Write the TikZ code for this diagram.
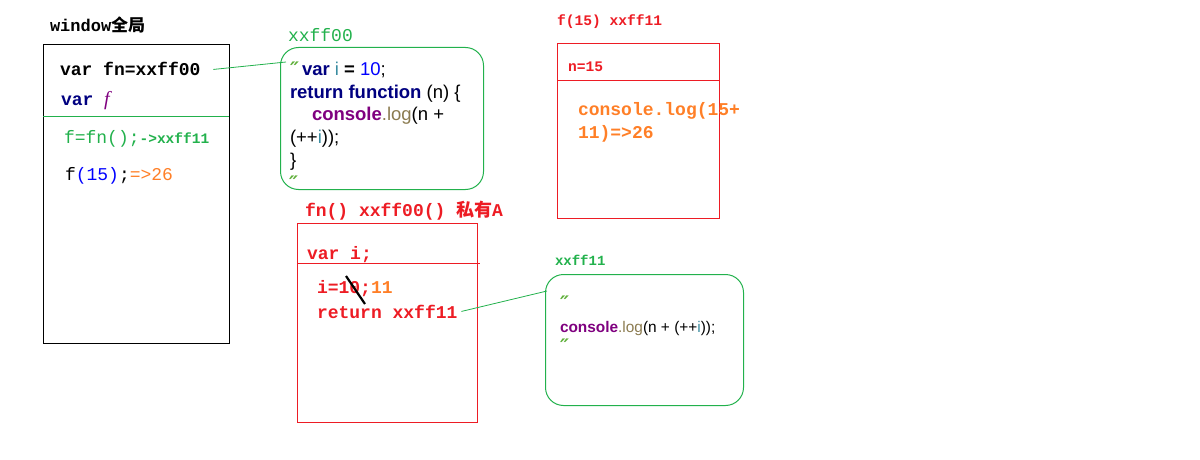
\documentclass[tikz,border=0pt]{standalone}
\usepackage{fontspec}
\setmainfont{Liberation Mono}
\newfontfamily\cjk{Noto Sans CJK SC}
\newfontfamily\code{Liberation Sans}
\newfontfamily\sym{DejaVu Sans}
\newfontfamily\serifit{Liberation Serif}
\newcommand\fsz[1]{\fontsize{#1}{#1}\selectfont}

\definecolor{pgreen}{HTML}{22B14C}
\definecolor{pred}{HTML}{ED1C24}
\definecolor{porange}{HTML}{FF7F27}
\definecolor{pnavy}{HTML}{000080}
\definecolor{ppurple}{HTML}{7F007F}
\definecolor{pblue}{HTML}{0000FF}
\definecolor{pteal}{HTML}{3A8CA0}
\definecolor{plog}{HTML}{8B7B50}
\definecolor{pquote}{HTML}{5FAF3A}

\tikzset{
  lbl/.style={anchor=base west, inner sep=0pt, outer sep=0pt},
  frame/.style={draw, line width=1pt, inner sep=0pt, anchor=north west},
  scope box/.style={frame, draw=black, line width=1.2pt},
  heap box/.style={frame, draw=pgreen, rounded corners=18pt},
  call box/.style={frame, draw=pred},
  link/.style={draw=pgreen, line width=0.8pt},
  ditto/.style={lbl, text=pquote, font=\sym\fsz{20}\bfseries\itshape},
}

\begin{document}
\begin{tikzpicture}[x=1pt,y=-1pt]
\useasboundingbox (0,0) rectangle (1200,460);

% ---------- global scope ----------
\node[lbl] (wintitle) at (50,32) {\fsz{17}\bfseries window{\cjk 全局}};
\node[scope box, minimum width=186pt, minimum height=299pt] (win) at (43,44) {};
\draw[pgreen, line width=0.8pt] (43,116) -- (229,116);
\node[lbl] (fnvar) at (60,76) {\fsz{18}\bfseries var fn=xxff00};
\node[lbl] (varf) at (61,105) {\fsz{18}\bfseries\textcolor{pnavy}{var} \textcolor{ppurple}{\serifit\itshape\mdseries\fsz{20}f}};
\node[lbl, text=pgreen] (assign) at (64,143) {\fsz{18}f=fn();{\fsz{14.5}\bfseries ->xxff11}};
\node[lbl] (call) at (65,180) {\fsz{18}f\textcolor{pblue}{(15)};\textcolor{porange}{=>26}};

% ---------- function object xxff00 ----------
\node[lbl, text=pgreen] (h1title) at (288,42) {\fsz{18}xxff00};
\node[heap box, minimum width=203pt, minimum height=142pt] (h1) at (280,47) {};
\node[ditto] (q1) at (290,77) {″};
\node[lbl] (c1) at (302,76) {\code\fsz{18.5}\textcolor{pnavy}{\bfseries var} \textcolor{pteal}{i} \textbf{=} \textcolor{pblue}{10};};
\node[lbl] (c2) at (290,98.5) {\code\fsz{18.5}\textcolor{pnavy}{\bfseries return function} (n) \{};
\node[lbl] (c3) at (312,121) {\code\fsz{18.5}\textcolor{ppurple}{\bfseries console}\textcolor{plog}{.log}(n +};
\node[lbl] (c4) at (290,143.5) {\code\fsz{18.5}(++\textcolor{pteal}{i}));};
\node[lbl] (c5) at (290,166) {\code\fsz{18.5}\}};
\node[ditto] (q2) at (289,190) {″};
\coordinate (in1) at (286,62);

% ---------- call frame f(15) ----------
\node[lbl, text=pred] (f15title) at (557,26) {\fsz{14.6}\bfseries f(15) xxff11};
\node[call box, minimum width=162pt, minimum height=175pt] (f15) at (557,43) {};
\draw[pred, line width=1pt] (557,81) -- (719,81);
\node[lbl, text=pred] (nval) at (568,72) {\fsz{14.6}\bfseries n=15};
\node[lbl, text=porange] (log1) at (578,115) {\fsz{18}\bfseries console.log(15+};
\node[lbl, text=porange] (log2) at (578,139) {\fsz{18}\bfseries 11)=>26};

% ---------- call frame fn() ----------
\node[lbl, text=pred] (fntitle) at (305,216) {\fsz{18}\bfseries fn() xxff00() {\cjk 私有}A};
\node[call box, minimum width=180pt, minimum height=199pt] (fnframe) at (297,223) {};
\draw[pred, line width=1pt] (298,263) -- (480,263);
\node[lbl, text=pred] (vari) at (307,259) {\fsz{18}\bfseries var i;};
\node[lbl, text=pred] (iset) at (317,293) {\fsz{18}\bfseries i=10;\textcolor{porange}{11}};
\draw[black, line width=2.2pt] (346,276) -- (365,304);
\node[lbl, text=pred] (ret) at (317,318) {\fsz{18}\bfseries return xxff11};

% ---------- function object xxff11 ----------
\node[lbl, text=pgreen] (h2title) at (555,265) {\fsz{14}\bfseries xxff11};
\node[heap box, minimum width=198pt, minimum height=131pt] (h2) at (545,274) {};
\node[ditto] (q3) at (560,310) {″};
\node[lbl] (c6) at (560,332) {\code\fsz{15.4}\textcolor{ppurple}{\bfseries console}\textcolor{plog}{.log}(n + (++\textcolor{pteal}{i}));};
\node[ditto] (q4) at (560,353) {″};
\coordinate (in2) at (547,291);

% ---------- references ----------
\draw[link] ([xshift=13pt]fnvar.east) -- (in1);
\draw[link] ([xshift=4pt]ret.east) -- (in2);
\end{tikzpicture}
\end{document}
